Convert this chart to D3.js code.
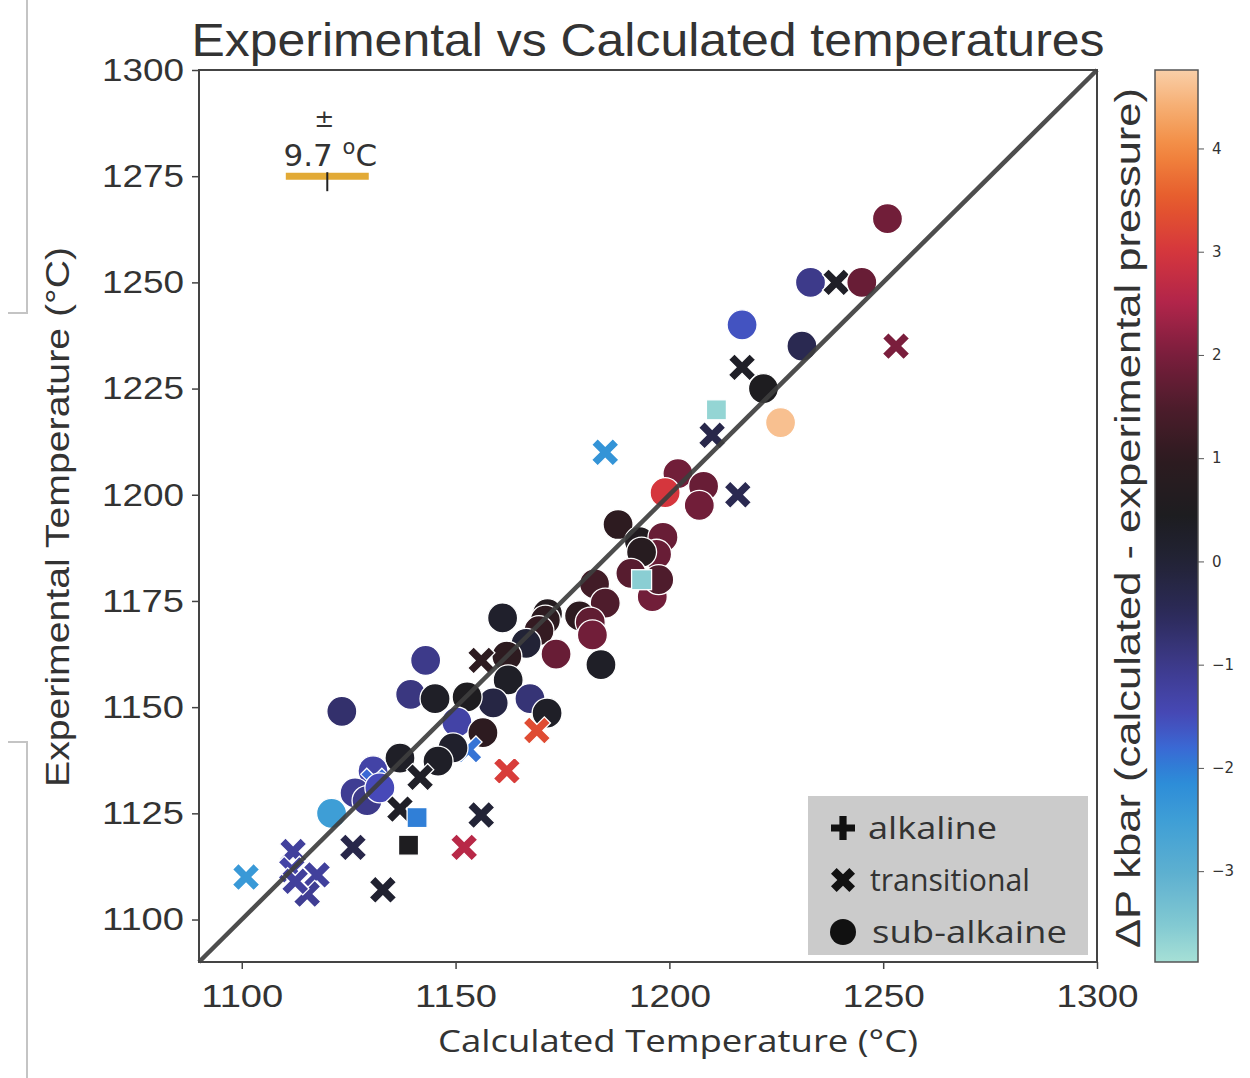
<!DOCTYPE html>
<meta charset='utf-8'>
<head>
    <title>Experimental vs Calculated temperatures</title>
    <script src='https://d3js.org/d3.v7.min.js'></script>
</head>

<style>
    body { margin: 0; background: white; }
    text { fill: #333; }
</style>

<svg></svg>

<script>
    var vWidth = 1250;
    var vHeight = 1078;

    // data
    var calcT = [1251, 1233, 1239, 1245, 1217, 1231, 1253, 1217, 1222, 1211, 1226, 1210, 1185, 1202, 1199, 1208, 1207, 1216,
        1188, 1193, 1198.5, 1197, 1193.5, 1191, 1196, 1197.5, 1182.5, 1185, 1171.5, 1179, 1181.5, 1182, 1184, 1193.5,
        1161, 1171, 1169.5, 1166.5, 1173.5, 1162, 1156, 1162.3, 1158.8, 1152.7, 1167.4, 1171.4, 1150.3, 1169,
        1143, 1139.5, 1145.2, 1156.4, 1153, 1162, 1149.4, 1137, 1145.9, 1123.4, 1141.7, 1130.7, 1131, 1126.5,
        1129.3, 1132.3, 1121, 1137, 1141, 1156, 1126, 1139, 1152, 1112, 1101, 1111.7, 1117.6, 1115.3, 1133, 1112.5];
    var expT = [1265, 1250, 1250, 1250, 1240, 1235, 1235, 1230, 1225, 1220, 1217, 1214, 1210, 1205, 1200.5, 1202, 1197.5, 1200,
        1193, 1189, 1190, 1186, 1186.5, 1181.5, 1176, 1180, 1179, 1174.5, 1172, 1171.5, 1170, 1167, 1160, 1180,
        1171, 1170.5, 1168, 1165, 1162.5, 1162, 1161, 1156.4, 1151, 1152.4, 1152, 1148.6, 1146.5, 1144.5,
        1161, 1153, 1152, 1144, 1140, 1135, 1140.4, 1138, 1137.3, 1149, 1133.5, 1135, 1132.4, 1129.8,
        1128, 1131, 1125, 1126, 1124, 1124.6, 1117, 1117.5, 1117, 1116, 1110, 1111.7, 1110.5, 1106, 1107, 1109];
    var deltaP = [1.9, -1.0, 0.3, 1.8, -1.6, -0.4, 2.0, 0.3, 0.5, -3.7, 4.6, -0.3, -2.3, 1.9, 3.0, 1.8, 1.9, -0.4,
        1.0, 0.6, 1.8, 1.8, 0.8, 1.6, 1.9, 1.5, 1.3, 1.5, 0.7, 1.0, 1.7, 1.9, 0.3, -3.6,
        0.2, 1.0, 1.1, 0.0, 1.8, 1.0, 1.0, 0.3, -0.2, 0.5, -0.8, 0.3, -1.3, 3.3,
        -1.0, -0.9, 0.3, 1.0, -1.9, 3.1, 0.2, 0.3, 0.3, -0.7, 0.3, -1.3, -1.8, -1.1,
        -1.0, -1.5, -2.5, 0.3, -2.0, 0.0, -0.3, 0.5, 2.6, -1.2, -2.4, -1.3, -1.2, -1.1, 0.1, -1.2];
    var rockType = ['sub', 'sub', 'trans', 'sub', 'sub', 'sub', 'trans', 'trans', 'sub', 'alk', 'sub', 'trans', 'trans', 'sub', 'sub', 'sub', 'sub', 'trans',
        'sub', 'sub', 'sub', 'sub', 'sub', 'sub', 'sub', 'sub', 'sub', 'sub', 'sub', 'sub', 'sub', 'sub', 'sub', 'alk',
        'sub', 'sub', 'sub', 'sub', 'sub', 'sub', 'trans', 'sub', 'sub', 'sub', 'sub', 'sub', 'sub', 'trans',
        'sub', 'sub', 'sub', 'sub', 'trans', 'trans', 'sub', 'sub', 'sub', 'sub', 'trans', 'sub', 'trans', 'sub',
        'sub', 'sub', 'sub', 'trans', 'alk', 'trans', 'trans', 'alk', 'trans', 'trans', 'trans', 'trans', 'trans', 'trans', 'trans', 'trans'];

    var xTicks = [1100, 1150, 1200, 1250, 1300];
    var yTicks = [1100, 1125, 1150, 1175, 1200, 1225, 1250, 1275, 1300];
    var cbarTicks = [-3, -2, -1, 0, 1, 2, 3, 4];
    var legendLabels = ['alkaline', 'transitional', 'sub-alkaine'];
    var errCentre = 1120, errHalf = 9.7, errY = 1275;

    // icefire-like colour stops
    var cmapValues = [-3.88, -3.5, -3.0, -2.5, -2.1, -1.8, -1.5, -1.0, -0.5, 0.0, 0.45, 1.0, 1.5, 2.0, 2.5, 3.0, 3.5, 4.0, 4.4, 4.76];
    var cmapColors = ['#a6e0d6', '#80c8d2', '#5cafd0', '#3e9ed6', '#2b8ad8', '#3a68d4', '#4749b8', '#3d3a8a', '#2c2a58', '#222336',
        '#1d1d20', '#2d1b20', '#4e1c2c', '#7a1e3c', '#b1254a', '#d5363d', '#e65a2c', '#f28a40', '#f6ae72', '#f9cfa8'];

    var vData = calcT.map(function (d, i) {
        return {calc: d, exp: expT[i], dp: deltaP[i], type: rockType[i]};
    });

    var svg = d3.select('svg').attr('width', vWidth).attr('height', vHeight);

    var x = d3.scaleLinear().domain([1090, 1300]).range([199, 1097]);
    var y = d3.scaleLinear().domain([1090, 1300]).range([962, 70]);
    var color = d3.scaleLinear().domain(cmapValues).range(cmapColors).interpolate(d3.interpolateRgb).clamp(true);
    var cy = d3.scaleLinear().domain([-3.88, 4.76]).range([962, 70]);

    function fit(sel, len) {
        return sel.attr('textLength', len).attr('lengthAdjust', 'spacingAndGlyphs');
    }

    // leftover bracket lines at the left edge
    svg.append('path').attr('d', 'M8,313H27V0M8,742H27V1078')
        .attr('fill', 'none').attr('stroke', '#c4c4c4').attr('stroke-width', 2);

    // axes
    var gx = svg.append('g').attr('transform', 'translate(0,962)')
        .call(d3.axisBottom(x).tickValues(xTicks).tickSize(7).tickPadding(8).tickFormat(d3.format('d')));
    var gy = svg.append('g').attr('transform', 'translate(199,0)')
        .call(d3.axisLeft(y).tickValues(yTicks).tickSize(7).tickPadding(8).tickFormat(d3.format('d')));
    [gx, gy].forEach(function (g) {
        g.select('.domain').remove();
        g.selectAll('line').attr('stroke', '#444').attr('stroke-width', 1.5);
        g.selectAll('text').attr('font-family', 'Liberation Sans, Arial, sans-serif').attr('font-size', 32)
            .attr('fill', '#3a3a3a');
        fit(g.selectAll('text'), 82);
    });
    gx.selectAll('text').attr('dy', '0.95em');

    // points
    var crossPts = function (L, w) {
        return [[-w, -L], [w, -L], [w, -w], [L, -w], [L, w], [w, w], [w, L], [-w, L], [-w, w], [-L, w], [-L, -w], [-w, -w]];
    };
    var crossPath = 'M' + crossPts(15, 4.3).join('L') + 'Z';

    var pts = svg.append('g').selectAll('g').data(vData).enter().append('g')
        .attr('transform', function (d) { return 'translate(' + x(d.calc) + ',' + y(d.exp) + ')'; });
    pts.each(function (d) {
        var g = d3.select(this);
        var m;
        if (d.type === 'sub') {
            m = g.append('circle').attr('r', 15);
        } else if (d.type === 'trans') {
            m = g.append('path').attr('d', crossPath).attr('transform', 'rotate(45)');
        } else {
            m = g.append('rect').attr('x', -10).attr('y', -10).attr('width', 20).attr('height', 20);
        }
        m.attr('fill', color(d.dp)).attr('stroke', 'white').attr('stroke-width', 1.3);
    });

    // 1:1 line
    svg.append('line')
        .attr('x1', x(1090)).attr('y1', y(1090)).attr('x2', x(1300)).attr('y2', y(1300))
        .attr('stroke', '#3e3e3e').attr('stroke-width', 4.5).attr('opacity', 0.92);

    // frame
    svg.append('rect').attr('x', 199).attr('y', 70).attr('width', 898).attr('height', 892)
        .attr('fill', 'none').attr('stroke', '#444').attr('stroke-width', 2);

    // error bar annotation
    svg.append('line').attr('x1', x(errCentre - errHalf)).attr('x2', x(errCentre + errHalf))
        .attr('y1', y(errY)).attr('y2', y(errY)).attr('stroke', '#e2aa36').attr('stroke-width', 7);
    svg.append('line').attr('x1', x(errCentre)).attr('x2', x(errCentre))
        .attr('y1', y(errY) - 4).attr('y2', y(errY) + 15).attr('stroke', '#222').attr('stroke-width', 2);
    svg.append('text').attr('x', x(errCentre) - 3).attr('y', 127).attr('text-anchor', 'middle')
        .attr('font-family', 'DejaVu Sans, sans-serif').attr('font-size', 24).attr('fill', '#222').text('±');
    var errT = svg.append('text').attr('x', x(errCentre) + 3).attr('y', 166).attr('text-anchor', 'middle')
        .attr('font-family', 'DejaVu Sans, sans-serif').attr('font-size', 31).attr('fill', '#222');
    errT.append('tspan').text(errHalf + ' ');
    errT.append('tspan').attr('font-size', 21).attr('dy', -12).text('o');
    errT.append('tspan').attr('dy', 12).text('C');

    // legend
    var lg = svg.append('g');
    lg.append('rect').attr('x', 808).attr('y', 796).attr('width', 280).attr('height', 159).attr('fill', '#cbcbcb');
    legendLabels.forEach(function (lab, i) {
        var ry = 828 + i * 52;
        if (i === 0) {
            lg.append('path').attr('d', 'M' + crossPts(12, 3.6).join('L') + 'Z')
                .attr('transform', 'translate(843,' + ry + ')').attr('fill', '#111');
        } else if (i === 1) {
            lg.append('path').attr('d', 'M' + crossPts(13, 4).join('L') + 'Z')
                .attr('transform', 'translate(843,' + ry + ') rotate(45)').attr('fill', '#111');
        } else {
            lg.append('circle').attr('cx', 843).attr('cy', ry).attr('r', 13).attr('fill', '#111');
        }
        fit(lg.append('text').attr('x', 868 + i * 2).attr('y', ry + 11)
            .attr('font-family', 'Open Sans, DejaVu Sans, sans-serif').attr('font-size', 31).attr('fill', '#222')
            .text(lab), [129, 160, 195][i]);
    });

    // colour bar
    var defs = svg.append('defs');
    var grad = defs.append('linearGradient').attr('id', 'cbar').attr('x1', 0).attr('y1', 1).attr('x2', 0).attr('y2', 0);
    d3.range(0, 1.0001, 0.02).forEach(function (t) {
        var v = -3.88 + t * (4.76 + 3.88);
        grad.append('stop').attr('offset', t).attr('stop-color', color(v));
    });
    svg.append('rect').attr('x', 1155).attr('y', 70).attr('width', 43).attr('height', 892)
        .attr('fill', 'url(#cbar)').attr('stroke', '#555').attr('stroke-width', 1.5);
    var gc = svg.append('g').attr('transform', 'translate(1198,0)')
        .call(d3.axisRight(cy).tickValues(cbarTicks).tickSize(6).tickPadding(8).tickFormat(function (d) {
            return d < 0 ? '\u2212' + Math.abs(d) : d;
        }));
    gc.select('.domain').remove();
    gc.selectAll('line').attr('stroke', '#555');
    gc.selectAll('text').attr('font-family', 'DejaVu Sans, sans-serif').attr('font-size', 15).attr('fill', '#666');

    // titles
    fit(svg.append('text').attr('x', 648).attr('y', 56).attr('text-anchor', 'middle')
        .attr('font-family', 'Liberation Sans, Arial, sans-serif').attr('font-size', 46).attr('fill', '#333')
        .text('Experimental vs Calculated temperatures'), 913);
    fit(svg.append('text').attr('x', 678).attr('y', 1052).attr('text-anchor', 'middle')
        .attr('font-family', 'Open Sans, DejaVu Sans, sans-serif').attr('font-size', 31).attr('fill', '#333')
        .text('Calculated Temperature (\u00B0C)'), 480);
    fit(svg.append('text').attr('transform', 'translate(69,517) rotate(-90)').attr('text-anchor', 'middle')
        .attr('font-family', 'Liberation Sans, Arial, sans-serif').attr('font-size', 33).attr('fill', '#333')
        .text('Experimental Temperature (\u00B0C)'), 540);
    fit(svg.append('text').attr('transform', 'translate(1140,518) rotate(-90)').attr('text-anchor', 'middle')
        .attr('font-family', 'Liberation Sans, Arial, sans-serif').attr('font-size', 35).attr('fill', '#333')
        .text('\u0394P kbar (calculated - experimental pressure)'), 860);
</script>
